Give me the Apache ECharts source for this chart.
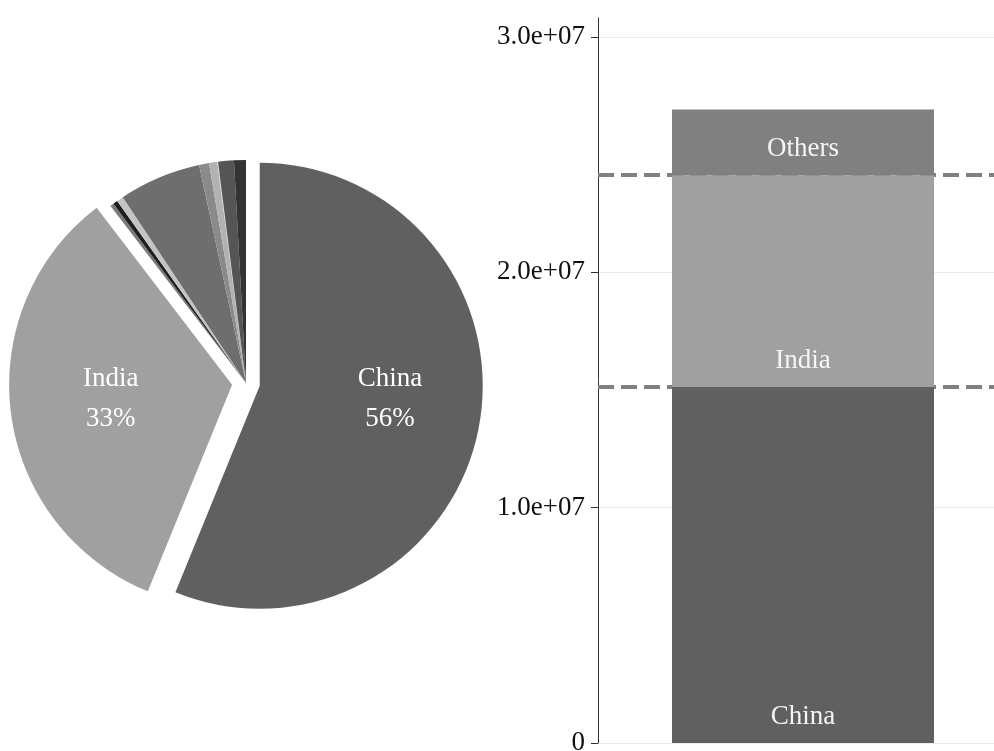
<!DOCTYPE html>
<html>
<head>
<meta charset="utf-8">
<script src="https://cdn.jsdelivr.net/npm/echarts@6/dist/echarts.min.js"></script>
<style>
html,body{margin:0;padding:0;background:#fff;}
#chart{width:994px;height:751px;}
</style>
</head>
<body>
<div id="chart"></div>
<script>
// ---- data ----
var mainNames = ['China', 'India'];
var mainValues = [15120000, 9000000];
var mainColors = ['#606060', '#a0a0a0'];
var otherNames = ['Other 1', 'Other 2', 'Other 3', 'Other 4', 'Other 5', 'Other 6', 'Other 7', 'Other 8', 'Other 9'];
var otherValues = [70000, 90000, 130000, 1600000, 194000, 160000, 15000, 307000, 232000];
var otherColors = ['#7a7a7a', '#1e1e1e', '#c4c4c4', '#6e6e6e', '#8a8a8a', '#b2b2b2', '#d8d8d8', '#555555', '#333333'];
var barCategories = ['Total'];
var yTicks = [0, 10000000, 20000000, 30000000];

var othersTotal = otherValues.reduce(function (a, b) { return a + b; }, 0);
var FONT = 'Liberation Serif';
var pieLabelShift = [[18, -9], [-8, -1]];

var pieData = [];
mainNames.forEach(function (n, i) {
  pieData.push({
    name: n, value: mainValues[i], selected: true,
    itemStyle: { color: mainColors[i] },
    label: { show: true }
  });
});
otherNames.forEach(function (n, i) {
  pieData.push({ name: n, value: otherValues[i], itemStyle: { color: otherColors[i] }, label: { show: false } });
});

function fmtAxis(v) {
  if (v === 0) return '0';
  var s = v.toExponential(1); // e.g. 3.0e+7
  var parts = s.split('e');
  var sign = parts[1].charAt(0);
  var exp = parts[1].slice(1);
  if (exp.length < 2) exp = '0' + exp;
  return parts[0] + 'e' + sign + exp;
}

var barLabel = { show: true, position: 'insideBottom', distance: 13, color: '#f5f5f5', fontFamily: FONT, fontSize: 27, formatter: '{a}' };

var chart = echarts.init(document.getElementById('chart'), null, { renderer: 'canvas' });
chart.setOption({
  animation: false,
  backgroundColor: '#ffffff',
  grid: { left: 598, width: 410, top: 18, bottom: 8, containLabel: false, outerBoundsMode: 'none' },
  xAxis: { type: 'category', data: barCategories, show: false },
  yAxis: {
    type: 'value', min: 0, max: 30800000, interval: 10000000,
    axisLine: { show: true, lineStyle: { color: '#333', width: 1 } },
    axisTick: { show: true, length: 7, customValues: yTicks, lineStyle: { color: '#333' } },
    axisLabel: {
      margin: 13, color: '#111', fontFamily: FONT, fontSize: 27, customValues: yTicks,
      formatter: function (v) { return fmtAxis(v); }
    },
    splitLine: { show: true, lineStyle: { color: '#ebebeb', width: 1 } }
  },
  series: [
    {
      type: 'pie', center: [246, 383], radius: 223, startAngle: 90, clockwise: true,
      selectedMode: 'multiple', selectedOffset: 14,
      avoidLabelOverlap: false,
      emphasis: { disabled: true },
      itemStyle: { borderWidth: 0 },
      label: {
        position: 'inside', color: '#ffffff', fontFamily: FONT, fontSize: 27, lineHeight: 40,
        formatter: function (p) { return p.name + '\n' + Math.round(p.percent) + '%'; }
      },
      labelLayout: function (p) {
        var s = pieLabelShift[p.dataIndex];
        if (!s) return {};
        return { dx: s[0], dy: s[1] };
      },
      labelLine: { show: false },
      data: pieData
    },
    {
      name: mainNames[0], type: 'bar', stack: 'total', barWidth: 262,
      itemStyle: { color: mainColors[0] }, label: barLabel,
      data: [mainValues[0]],
      markLine: {
        z: 1, silent: true, symbol: ['none', 'none'],
        label: { show: false },
        lineStyle: { color: '#808080', width: 4, type: [16, 7] },
        data: [{ yAxis: mainValues[0] }, { yAxis: mainValues[0] + mainValues[1] }]
      }
    },
    {
      name: mainNames[1], type: 'bar', stack: 'total', barWidth: 262,
      itemStyle: { color: mainColors[1] }, label: barLabel,
      data: [mainValues[1]]
    },
    {
      name: 'Others', type: 'bar', stack: 'total', barWidth: 262,
      itemStyle: { color: '#808080' }, label: barLabel,
      data: [othersTotal]
    }
  ]
});
</script>
</body>
</html>
